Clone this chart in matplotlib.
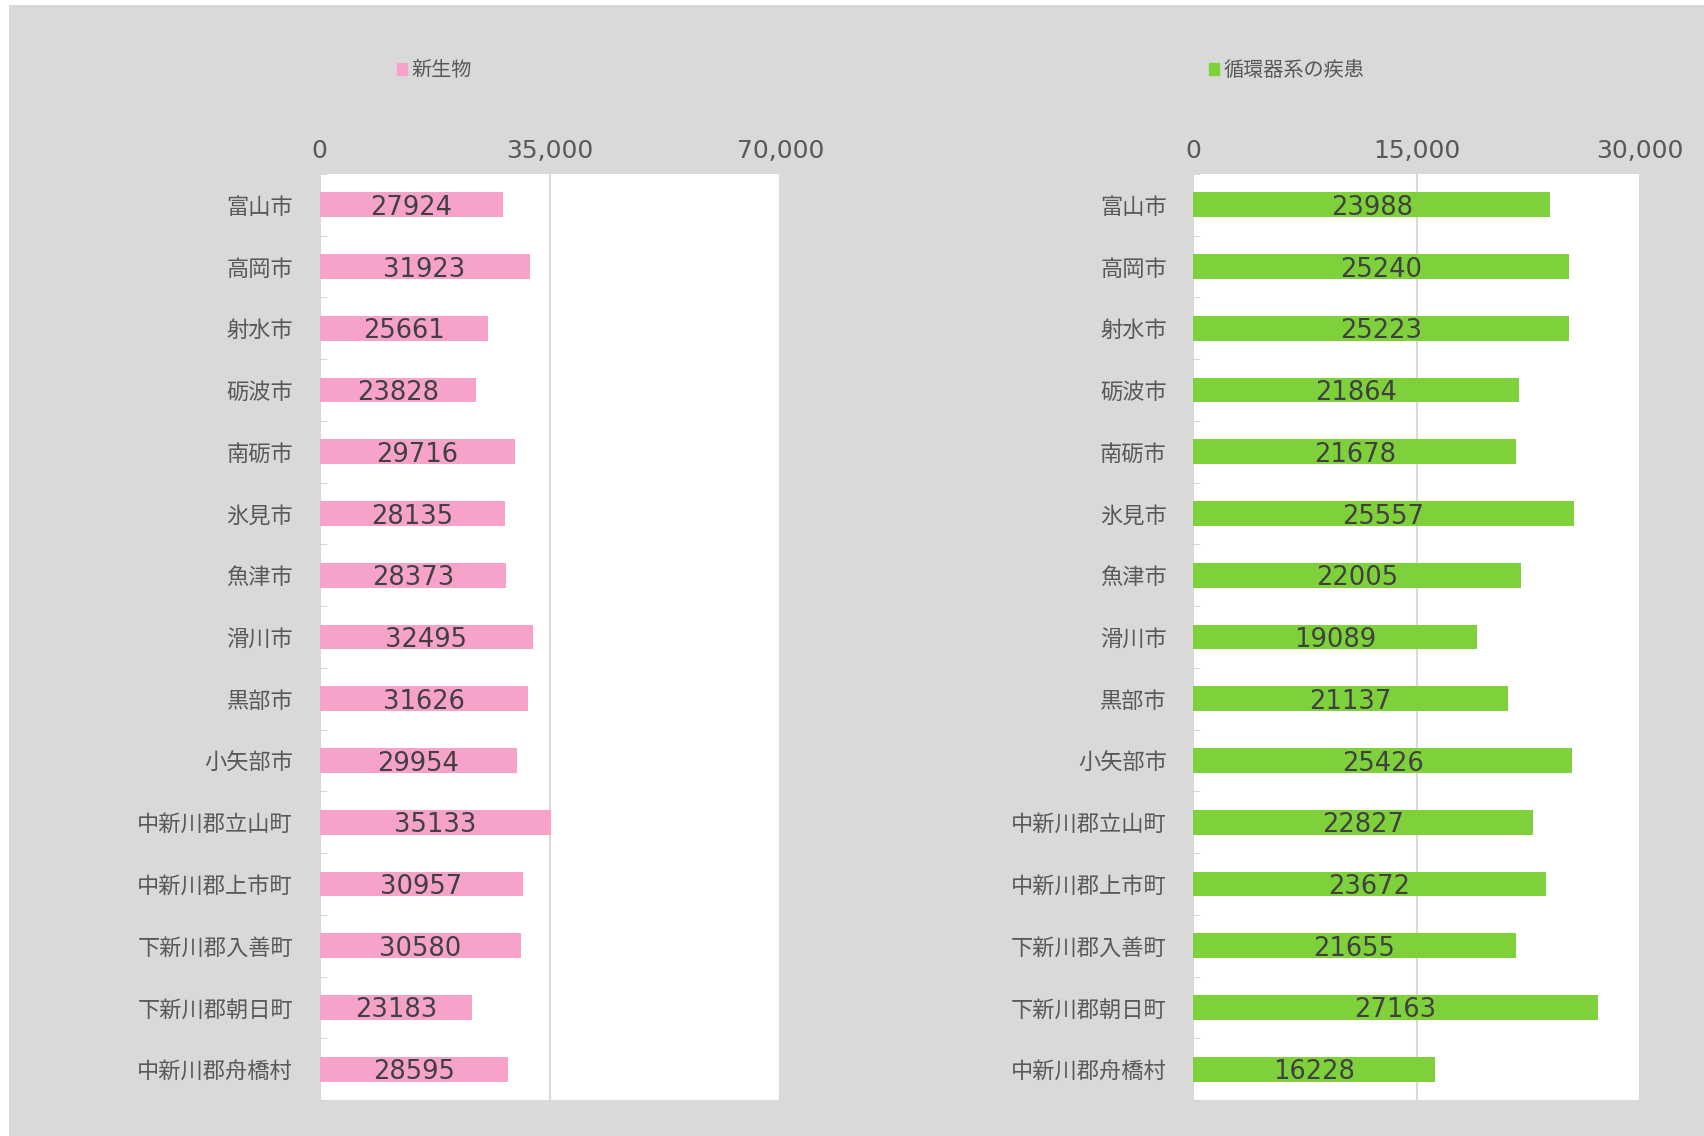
import matplotlib.pyplot as plt
from matplotlib.patches import Rectangle, Patch
import numpy as np

plt.rcParams['font.family'] = ['Noto Sans CJK JP', 'DejaVu Sans']

cities = ['富山市', '高岡市', '射水市', '砺波市', '南砺市', '氷見市', '魚津市', '滑川市',
          '黒部市', '小矢部市', '中新川郡立山町', '中新川郡上市町', '下新川郡入善町',
          '下新川郡朝日町', '中新川郡舟橋村']
neoplasm = [27924, 31923, 25661, 23828, 29716, 28135, 28373, 32495,
            31626, 29954, 35133, 30957, 30580, 23183, 28595]
circulatory = [23988, 25240, 25223, 21864, 21678, 25557, 22005, 19089,
               21137, 25426, 22827, 23672, 21655, 27163, 16228]

fig = plt.figure(figsize=(17.04, 11.36), dpi=100, facecolor='white')
fig.patches.append(Rectangle((0.0051, 0), 1, 0.9952, transform=fig.transFigure,
                             facecolor='#D9D9D9', edgecolor='none', zorder=-10))

panels = [
    (neoplasm, '新生物', '#F7A2CB', 70000, [0, 35000, 70000], 0.1875, 0.2704, 0.255),
    (circulatory, '循環器系の疾患', '#7ED13A', 30000, [0, 15000, 30000], 0.7003, 0.2621, 0.755),
]

y = np.arange(len(cities))
for vals, name, color, xmax, ticks, x0, w, legx in panels:
    ax = fig.add_axes([x0, 0.0316, w, 0.8153])
    ax.set_facecolor('white')
    ax.barh(y, vals, height=0.4, color=color, label=name, zorder=3)
    for yi, v in zip(y, vals):
        ax.text(v / 2, yi, str(v), ha='center', va='center_baseline', family='DejaVu Sans',
                fontsize=18.5, color='#404040', zorder=4)
    ax.set_xlim(0, xmax)
    ax.set_ylim(len(cities) - 0.5, -0.5)
    ax.set_xticks(ticks)
    ax.set_xticklabels([f'{t:,}' for t in ticks], family='DejaVu Sans')
    ax.xaxis.tick_top()
    ax.tick_params(axis='x', length=0, pad=8, labelsize=18, labelcolor='#595959')
    ax.set_yticks(y)
    ax.set_yticklabels(cities)
    ax.tick_params(axis='y', length=0, pad=19, labelsize=16, labelcolor='#595959')
    ax.set_yticks(np.arange(len(cities) + 1) - 0.5, minor=True)
    ax.tick_params(axis='y', which='minor', direction='in', length=5, color='#D0D0D0')
    ax.grid(axis='x', color='#D9D9D9', linewidth=1.5, zorder=0)
    for s in ax.spines.values():
        s.set_visible(False)
    fig.legend(handles=[Patch(color=color, label=name)], loc='center',
               bbox_to_anchor=(legx, 0.938), frameon=False, fontsize=14.5,
               handlelength=0.5, handleheight=0.5, handletextpad=0.2,
               labelcolor='#595959')

fig.savefig('out.png', dpi=100)
